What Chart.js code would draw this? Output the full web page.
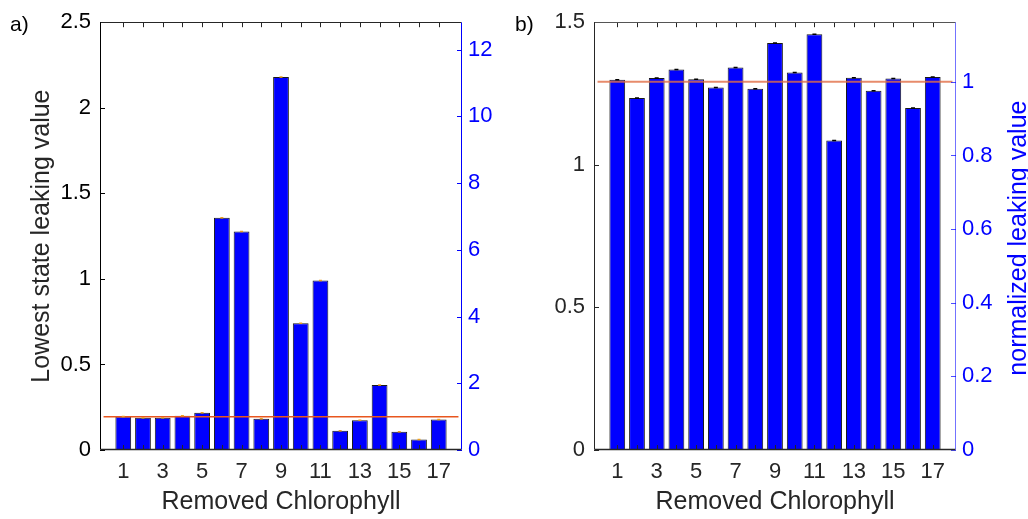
<!DOCTYPE html>
<html><head><meta charset="utf-8">
<script src="https://cdn.jsdelivr.net/npm/chart.js@4"></script>
<style>
html,body{margin:0;padding:0;background:#fff;}
body{width:1028px;height:519px;position:relative;overflow:hidden;font-family:"Liberation Sans",Arial,sans-serif;}
.pane{position:absolute;top:0;width:514px;height:519px;}
.lbl{position:absolute;font-size:21px;line-height:21px;color:#000;font-family:"Liberation Sans",Arial,sans-serif;}
</style></head><body>
<div class="pane" style="left:0"><canvas id="ca" width="514" height="519"></canvas></div>
<div class="pane" style="left:514px"><canvas id="cb" width="514" height="519"></canvas></div>
<div class="lbl" style="left:10px;top:13px">a)</div>
<div class="lbl" style="left:515px;top:13px">b)</div>
<script>
// ---- data ----
const categories = [1,2,3,4,5,6,7,8,9,10,11,12,13,14,15,16,17];
const leakA = [0.196,0.189,0.189,0.200,0.217,1.357,1.277,0.182,2.180,0.740,0.990,0.113,0.174,0.380,0.107,0.062,0.178];
const leakB = [1.298,1.234,1.304,1.334,1.300,1.271,1.341,1.267,1.427,1.324,1.458,1.085,1.305,1.260,1.303,1.199,1.308];
const refA = 0.195;
const refB = 1.291;
const refSpan = [0, 18];
const xRange = [-0.18, 18.18];
const xTickLabels = [1,3,5,7,9,11,13,15,17];
const leftTicksA = [0,0.5,1,1.5,2,2.5];
const rightTicksA = [0,2,4,6,8,10,12];
const leftTicksB = [0,0.5,1,1.5];
const rightTicksB = [0,0.2,0.4,0.6,0.8,1];
const leftMaxA = 2.5;
const leftMaxB = 1.5;

const FAM = '"Liberation Sans", Arial, sans-serif';
const W = 514, H = 519;

function makeChart(id, o) {
  const g = o.geom;
  const framePlugin = {
    id: 'frame' + id,
    afterDatasetsDraw(chart) {
      const ctx = chart.ctx, a = chart.chartArea;
      const sx = chart.scales.x, sy = chart.scales.y, sy2 = chart.scales.y2;
      const L = 5;
      ctx.save();
      ctx.lineWidth = 1;
      // x tick marks (every category) bottom and top, inward
      ctx.strokeStyle = '#262626';
      ctx.beginPath();
      categories.forEach(c => {
        const px = Math.round(sx.getPixelForValue(c)) + 0.5;
        ctx.moveTo(px, a.bottom); ctx.lineTo(px, a.bottom - L);
        ctx.moveTo(px, a.top); ctx.lineTo(px, a.top + L);
      });
      ctx.stroke();
      // left ticks
      ctx.strokeStyle = o.leftColor;
      ctx.beginPath();
      o.leftTicks.forEach(v => {
        const py = Math.round(sy.getPixelForValue(v)) + 0.5;
        ctx.moveTo(a.left, py); ctx.lineTo(a.left + L, py);
      });
      ctx.stroke();
      // right ticks
      ctx.strokeStyle = o.rightTickColor;
      ctx.beginPath();
      o.rightTicks.forEach(v => {
        const py = Math.round(sy2.getPixelForValue(v)) + 0.5;
        ctx.moveTo(a.right, py); ctx.lineTo(a.right - L, py);
      });
      ctx.stroke();
      // spines
      const l = Math.round(a.left) + 0.5, r = Math.round(a.right) - 0.5;
      const t = Math.round(a.top) + 0.5, b = Math.round(a.bottom) - 0.5;
      ctx.strokeStyle = o.topColor;
      ctx.beginPath(); ctx.moveTo(l, t); ctx.lineTo(r, t); ctx.stroke();
      ctx.strokeStyle = '#262626';
      ctx.lineWidth = 1.5;
      ctx.beginPath(); ctx.moveTo(l, b); ctx.lineTo(r, b); ctx.stroke();
      ctx.lineWidth = 1;
      ctx.strokeStyle = o.leftColor;
      ctx.beginPath(); ctx.moveTo(l, t); ctx.lineTo(l, b); ctx.stroke();
      ctx.strokeStyle = o.rightSpineColor;
      ctx.beginPath(); ctx.moveTo(r, t); ctx.lineTo(r, b); ctx.stroke();
      // right-side axis title (reads bottom to top)
      if (o.rightTitle) {
        ctx.fillStyle = '#0000FF';
        ctx.font = '25px ' + FAM;
        ctx.textAlign = 'center';
        ctx.textBaseline = 'middle';
        ctx.translate(o.rightTitleX, (a.top + a.bottom) / 2 + 2);
        ctx.rotate(-Math.PI / 2);
        ctx.fillText(o.rightTitle, 0, 0);
      }
      ctx.restore();
    }
  };
  const pts = categories.map((c, i) => ({x: c, y: o.values[i]}));
  return new Chart(document.getElementById(id), {
    type: 'bar',
    data: {
      datasets: [
        { type: 'line', data: pts, showLine: false, pointStyle: 'line', pointRadius: o.errR,
          pointBorderColor: o.errColor, pointBorderWidth: 1.5, pointBackgroundColor: o.errColor,
          yAxisID: 'y', order: 1 },
        { type: 'line', data: refSpan.map(x => ({x: x, y: o.ref})), borderColor: o.refColor,
          borderWidth: o.refWidth, pointRadius: 0, yAxisID: 'y', order: 2 },
        { type: 'bar', data: pts, backgroundColor: '#0000FF', borderColor: '#1a1a1a', borderWidth: 1,
          barPercentage: 0.8, categoryPercentage: 1, yAxisID: 'y', order: 3 }
      ]
    },
    options: {
      responsive: false, animation: false,
      layout: { padding: { top: g.top, left: 0, right: 0, bottom: 0 } },
      plugins: { legend: { display: false }, tooltip: { enabled: false } },
      scales: {
        x: {
          type: 'linear', min: xRange[0], max: xRange[1], offset: false,
          grid: { display: false, drawTicks: false }, border: { display: false },
          afterBuildTicks: s => { s.ticks = xTickLabels.map(v => ({value: v})); },
          ticks: { font: { size: 22, family: FAM }, color: '#262626', padding: 9, maxRotation: 0, autoSkip: false,
                   callback: v => String(v) },
          title: { display: true, text: 'Removed Chlorophyll', color: '#262626',
                   font: { size: 25, family: FAM, lineHeight: 1 }, padding: { top: 0, bottom: 4 } },
          afterFit: s => { s.height = H - g.bottom; }
        },
        y: {
          position: 'left', min: 0, max: o.leftMax,
          grid: { display: false, drawTicks: false }, border: { display: false },
          afterBuildTicks: s => { s.ticks = o.leftTicks.map(v => ({value: v})); },
          ticks: { font: { size: 22, family: FAM }, color: o.leftColor, padding: 9, callback: v => String(v) },
          title: { display: !!o.leftTitle, text: o.leftTitle || '', color: '#262626',
                   font: { size: 25, family: FAM, lineHeight: 1 }, padding: { top: 30, bottom: 0 } },
          afterFit: s => { s.width = g.left; }
        },
        y2: {
          position: 'right', min: 0, max: o.leftMax / o.ref,
          grid: { display: false, drawTicks: false }, border: { display: false },
          afterBuildTicks: s => { s.ticks = o.rightTicks.map(v => ({value: v})); },
          ticks: { font: { size: 22, family: FAM }, color: '#0000FF', padding: 6, callback: v => String(v) },
          afterFit: s => { s.width = W - g.right; }
        }
      }
    },
    plugins: [framePlugin]
  });
}

makeChart('ca', {
  values: leakA, ref: refA, leftMax: leftMaxA, leftTicks: leftTicksA, rightTicks: rightTicksA,
  leftTitle: 'Lowest state leaking value', rightTitle: null,
  geom: { left: 100, right: 462, top: 19.5, bottom: 450 },
  leftColor: '#000000', topColor: '#262626', rightSpineColor: '#0000FF', rightTickColor: '#0000FF',
  refColor: '#E8561E', refWidth: 1.5, errColor: '#EDA020', errR: 1.5
});
makeChart('cb', {
  values: leakB, ref: refB, leftMax: leftMaxB, leftTicks: leftTicksB, rightTicks: rightTicksB,
  leftTitle: null, rightTitle: 'normalized leaking value', rightTitleX: 505,
  geom: { left: 80, right: 442, top: 19.5, bottom: 450 },
  leftColor: '#262626', topColor: '#555555', rightSpineColor: 'rgba(0,0,255,0.55)', rightTickColor: 'rgba(0,0,255,0.7)',
  refColor: 'rgba(225,110,70,0.8)', refWidth: 2, errColor: '#000000', errR: 2
});
</script>
</body></html>
